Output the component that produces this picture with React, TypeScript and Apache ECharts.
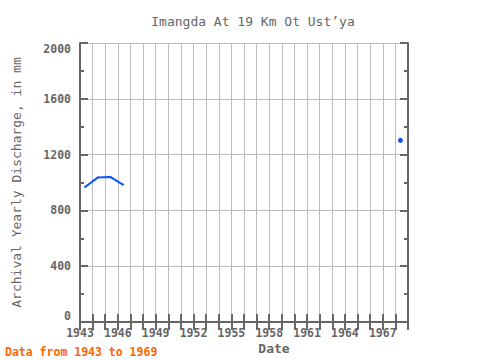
import React, { useEffect, useRef } from "react";
import * as echarts from "echarts";

const years = [1943, 1944, 1945, 1946, 1947, 1968];
const discharge: (number | null)[] = [968, 1035, 1040, 985, null, 1302];
const yTicks = [0, 400, 800, 1200, 1600, 2000];
const titleText = "Imangda At 19 Km Ot Ust\u2019ya";
const yName = "Archival Yearly Discharge, in mm";
const xName = "Date";
const note = "Data from 1943 to 1969";

const FONT = "DejaVu Sans Mono";
const GRAY = "#666666";
const BLUE = "#0a55f5";

export default function App() {
  const ref = useRef<HTMLDivElement>(null);
  useEffect(() => {
    if (!ref.current) return;
    const chart = echarts.init(ref.current, undefined, { renderer: "svg" });
    const data = years.map((y, i) => {
      const v = discharge[i];
      const prev = i > 0 ? discharge[i - 1] : null;
      const next = i < years.length - 1 ? discharge[i + 1] : null;
      const isolated = v !== null && prev === null && next === null;
      return {
        value: [y + 0.4, v === null ? "-" : v],
        symbolSize: isolated ? 5 : 2,
      };
    });
    const axisCommon = {
      axisLine: { show: true, lineStyle: { color: GRAY, width: 2 } },
      axisTick: { show: true, inside: true, length: 8, lineStyle: { color: GRAY, width: 2 } },
    };
    chart.setOption({
      animation: false,
      backgroundColor: "#ffffff",
      title: {
        text: titleText,
        left: 248,
        textAlign: "center",
        top: 10,
        textStyle: { fontFamily: FONT, fontSize: 13, fontWeight: "normal", color: GRAY },
      },
      grid: { left: 80, right: 72, top: 43, bottom: 38, containLabel: false, outerBoundsMode: "none" },
      xAxis: [
        {
          type: "value",
          min: 1943,
          max: 1969,
          interval: 1,
          ...axisCommon,
          splitLine: { show: true, lineStyle: { color: "#bbbbbb", width: 1 } },
          axisLabel: {
            fontFamily: FONT,
            fontSize: 11.5,
            fontWeight: "bold",
            color: GRAY,
            margin: 5,
            formatter: (v: number) => ((v - 1943) % 3 === 0 && v < 1969 ? String(v) : ""),
          },
        },
        {
          type: "value",
          position: "top",
          min: 1943,
          max: 1969,
          interval: 1,
          ...axisCommon,
          splitLine: { show: false },
          axisLabel: { show: false },
        },
      ],
      yAxis: [
        {
          type: "value",
          min: 0,
          max: 2000,
          interval: 400,
          ...axisCommon,
          minorTick: { show: true, splitNumber: 2, length: 4, lineStyle: { color: GRAY, width: 2 } },
          splitLine: { show: true, lineStyle: { color: "#bbbbbb", width: 1 } },
          axisLabel: {
            fontFamily: FONT,
            fontSize: 11.5,
            fontWeight: "bold",
            color: GRAY,
            margin: 9,
            verticalAlignMinLabel: "bottom",
            verticalAlignMaxLabel: "top",
            formatter: (v: number) => (yTicks.includes(v) ? String(v) : ""),
          },
          name: yName,
          nameLocation: "middle",
          nameGap: 57,
          nameRotate: 90,
          nameTextStyle: { fontFamily: FONT, fontSize: 13, color: GRAY },
        },
        {
          type: "value",
          position: "right",
          min: 0,
          max: 2000,
          interval: 400,
          ...axisCommon,
          minorTick: { show: true, splitNumber: 2, length: 4, lineStyle: { color: GRAY, width: 2 } },
          splitLine: { show: false },
          axisLabel: { show: false },
        },
      ],
      graphic: [
        {
          type: "text",
          x: 274,
          y: 348,
          style: {
            text: xName,
            fontFamily: FONT,
            fontSize: 13,
            fontWeight: "bold",
            fill: GRAY,
            align: "center",
            verticalAlign: "middle",
          },
        },
        {
          type: "text",
          x: 5,
          y: 352,
          style: {
            text: note,
            fontFamily: FONT,
            fontSize: 11.5,
            fontWeight: "bold",
            fill: "#ff6600",
            align: "left",
            verticalAlign: "middle",
          },
        },
      ],
      series: [
        {
          type: "line",
          data,
          connectNulls: false,
          showSymbol: true,
          symbol: "circle",
          lineStyle: { color: BLUE, width: 2 },
          itemStyle: { color: BLUE },
        },
      ],
    });
    return () => chart.dispose();
  }, []);
  return <div ref={ref} style={{ width: 480, height: 360, position: "absolute", left: 0, top: 0 }} />;
}
